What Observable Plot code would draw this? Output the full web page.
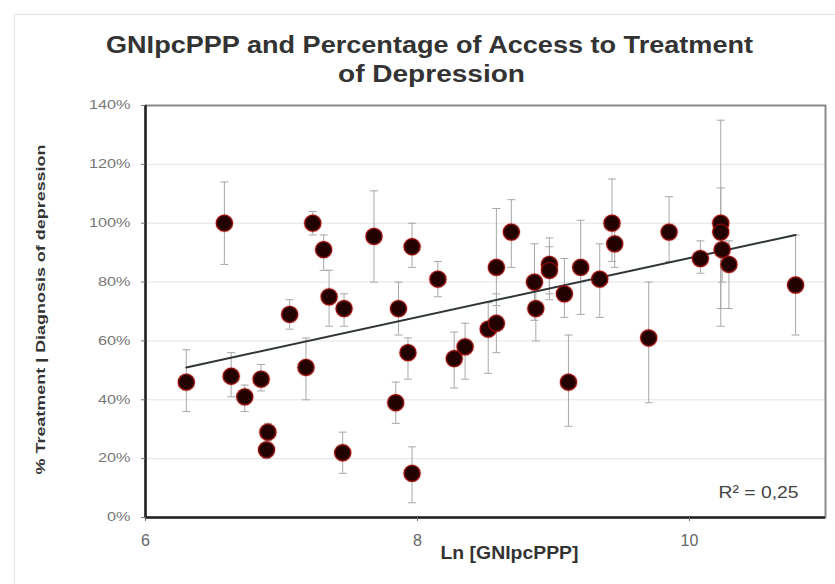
<!DOCTYPE html>
<html>
<head>
<meta charset="utf-8">
<script src="https://cdn.jsdelivr.net/npm/d3@7"></script>
<script src="https://cdn.jsdelivr.net/npm/@observablehq/plot@0.6"></script>
<style>
  html, body { margin: 0; padding: 0; background: #fff; }
  #wrap { position: relative; width: 835px; height: 584px; overflow: hidden; }
  #box { position: absolute; left: 14px; top: 14px; width: 830px; height: 580px; border: 1px solid #e4e4e4; box-sizing: border-box; }
  svg { position: absolute; left: 0; top: 0; font-family: "Liberation Sans", Arial, sans-serif; }
</style>
</head>
<body>
<div id="wrap"><div id="box"></div></div>
<script>
// ---- data ----
const lnGni = [6.30, 6.58, 6.63, 6.73, 6.85, 6.90, 6.89, 7.06, 7.18, 7.23, 7.31, 7.35, 7.46, 7.45, 7.68,
               7.86, 7.84, 7.93, 7.96, 7.96, 8.15, 8.27, 8.35, 8.52, 8.58, 8.58, 8.69, 8.86, 8.87, 8.97,
               8.97, 9.08, 9.11, 9.20, 9.34, 9.43, 9.45, 9.70, 9.85, 10.08, 10.23, 10.23, 10.24, 10.29, 10.78];
const pctTreat = [46, 100, 48, 41, 47, 29, 23, 69, 51, 100, 91, 75, 71, 22, 95.5,
                  71, 39, 56, 15, 92, 81, 54, 58, 64, 66, 85, 97, 80, 71, 86,
                  84, 76, 46, 85, 81, 100, 93, 61, 97, 88, 100, 97, 91, 86, 79];
const errLow  = [36, 86, 41, 36, 43, 26, 20, 64, 40, 96, 84, 65, 65, 15, 80,
                 62, 32, 47, 5, 85, 75, 44, 47, 49, 56, 72, 85, 67, 60, 76,
                 74, 68, 31, 69, 68, 87, 85, 39, 87, 83, 65, 71, 80, 71, 62];
const errHigh = [57, 114, 56, 45, 52, 32, 25, 74, 61, 104, 96, 84, 76, 29, 111,
                 80, 46, 61, 24, 100, 87, 63, 66, 73, 76, 105, 108, 93, 80, 95,
                 92, 88, 62, 101, 93, 115, 100, 80, 109, 94, 135, 112, 99, 94, 96];
const trendX = [6.30, 10.78];
const trendY = [51, 96];
const xTicks = [6, 8, 10];
const yTicks = [0, 20, 40, 60, 80, 100, 120, 140];
const titleLines = ["GNIpcPPP and Percentage of Access to Treatment", "of Depression"];
const xLabel = "Ln [GNIpcPPP]";
const yLabel = "% Treatment | Diagnosis of depression";
const r2Label = "R² = 0,25";

const points = lnGni.map((x, i) => ({x, y: pctTreat[i], lo: errLow[i], hi: errHigh[i]}));
const trend = trendX.map((x, i) => ({x, y: trendY[i]}));

const capSymbol = {
  draw(ctx, size) {
    const w = Math.sqrt(size / Math.PI);
    ctx.moveTo(-w, 0);
    ctx.lineTo(w, 0);
  }
};

const chart = Plot.plot({
  width: 835,
  height: 584,
  marginLeft: 145,
  marginRight: 10,
  marginTop: 105,
  marginBottom: 67,
  style: {fontFamily: "Liberation Sans, Arial, sans-serif", background: "transparent"},
  x: {domain: [6, 11]},
  y: {domain: [0, 140]},
  marks: [
    Plot.gridY(yTicks, {stroke: "#e4e4e4", strokeOpacity: 1}),
    Plot.frame({stroke: "#8a8a8a", strokeWidth: 2}),
    Plot.ruleX(points, {x: "x", y1: "lo", y2: "hi", stroke: "#a8a8a8", strokeWidth: 1}),
    Plot.dot(points, {x: "x", y: "lo", symbol: capSymbol, r: 4, stroke: "#a8a8a8", fill: "none", strokeWidth: 1}),
    Plot.dot(points, {x: "x", y: "hi", symbol: capSymbol, r: 4, stroke: "#a8a8a8", fill: "none", strokeWidth: 1}),
    Plot.line(trend, {x: "x", y: "y", stroke: "#2f3535", strokeWidth: 2}),
    Plot.dot(points, {x: "x", y: "y", r: 9.5, fill: "#d42020", fillOpacity: 0.22, stroke: "none"}),
    Plot.dot(points, {x: "x", y: "y", r: 8, fill: "#230101", stroke: "#8c0c08", strokeWidth: 1.3}),
    Plot.ruleX([6], {stroke: "#222", strokeWidth: 2.5}),
    Plot.ruleY([0], {stroke: "#222", strokeWidth: 2.5}),
    Plot.axisY(yTicks, {tickSize: 4, tickPadding: 11, tickFormat: d => d + "%", fontSize: 12, color: "#777", label: null}),
    Plot.axisX(xTicks, {tickSize: 4, tickPadding: 13, tickFormat: d => String(d), fontSize: 16, color: "#666", label: null}),
    Plot.text([titleLines[0]], {frameAnchor: "top", lineAnchor: "middle", dx: -56, dy: -60, text: d => d, fontSize: 23, fontWeight: "bold", fill: "#333"}),
    Plot.text([titleLines[1]], {frameAnchor: "top", lineAnchor: "middle", dx: -54, dy: -31, text: d => d, fontSize: 23, fontWeight: "bold", fill: "#333"}),
    Plot.text([xLabel], {frameAnchor: "bottom", lineAnchor: "middle", dx: 24, dy: 36, text: d => d, fontSize: 18, fontWeight: "bold", fill: "#333"}),
    Plot.text([yLabel], {frameAnchor: "left", lineAnchor: "middle", textAnchor: "middle", dx: -105, dy: -2, rotate: -90, text: d => d, fontSize: 13, fontWeight: "bold", fill: "#333"}),
    Plot.text([r2Label], {frameAnchor: "bottom-right", lineAnchor: "middle", dx: -27, dy: -25, textAnchor: "end", text: d => d, fontSize: 17, fill: "#444"})
  ]
});
document.getElementById("wrap").appendChild(chart);

// stretch text horizontally to match the reference's wide rendering
const targetWidths = new Map([
  [titleLines[0], 647], [titleLines[1], 187], [xLabel, 138], [yLabel, 330], [r2Label, 80]
]);
d3.select(chart).selectAll("text").each(function () {
  const t = this.textContent;
  const len = this.getComputedTextLength();
  let target = null;
  if (targetWidths.has(t)) target = targetWidths.get(t);
  else if (t.endsWith("%")) target = len * 1.35;
  if (target) {
    this.setAttribute("textLength", target);
    this.setAttribute("lengthAdjust", "spacingAndGlyphs");
  }
});
</script>
</body>
</html>
